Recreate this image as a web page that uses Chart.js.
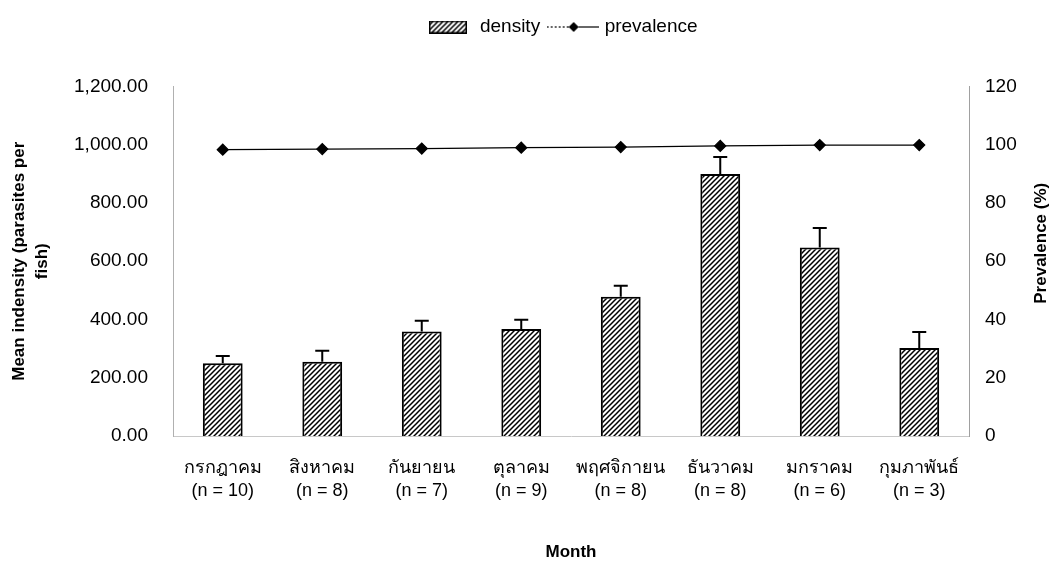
<!DOCTYPE html>
<html>
<head>
<meta charset="utf-8">
<script src="https://cdn.jsdelivr.net/npm/chart.js@4.4.1/dist/chart.umd.min.js"></script>
<style>
  html, body { margin: 0; padding: 0; background: #fff; }
  #wrap { position: relative; width: 1051px; height: 565px; }
</style>
</head>
<body>
<div id="wrap"><canvas id="chart"></canvas></div>
<script>
// values
const months = ["กรกฎาคม", "สิงหาคม", "กันยายน", "ตุลาคม", "พฤศจิกายน", "ธันวาคม", "มกราคม", "กุมภาพันธ์"];
const sampleSizes = [10, 8, 7, 9, 8, 8, 6, 3];
const density = [250, 255, 359, 367, 478, 900, 647, 302];
const densityErr = [25, 38, 37, 32, 38, 58, 67, 55];
const prevalence = [98.3, 98.5, 98.7, 99, 99.2, 99.6, 99.9, 99.9];
const leftTicks = [0, 200, 400, 600, 800, 1000, 1200];
const rightTicks = [0, 20, 40, 60, 80, 100, 120];

const FONT = '"Liberation Sans", Arial, sans-serif';
const canvas = document.getElementById("chart");
const ctx = canvas.getContext("2d");

function makeHatch() {
  const c = document.createElement("canvas");
  c.width = 5; c.height = 5;
  const g = c.getContext("2d");
  g.fillStyle = "#fff";
  g.fillRect(0, 0, 5, 5);
  g.strokeStyle = "#000";
  g.lineWidth = 1.5;
  g.beginPath();
  g.moveTo(-1, 6); g.lineTo(6, -1);
  g.moveTo(-3.5, 3.5); g.lineTo(3.5, -3.5);
  g.moveTo(1.5, 8.5); g.lineTo(8.5, 1.5);
  g.stroke();
  return ctx.createPattern(c, "repeat");
}
const hatch = makeHatch();

// legend icons
const densityIcon = document.createElement("canvas");
densityIcon.width = 38; densityIcon.height = 13;
(function () {
  const g = densityIcon.getContext("2d");
  g.fillStyle = hatch;
  g.fillRect(0, 0, 38, 13);
  g.strokeStyle = "#000";
  g.lineWidth = 1.5;
  g.strokeRect(0.75, 0.75, 36.5, 11.5);
})();

const prevIcon = document.createElement("canvas");
prevIcon.width = 52; prevIcon.height = 12;
(function () {
  const g = prevIcon.getContext("2d");
  g.strokeStyle = "#000";
  g.lineWidth = 1.2;
  g.setLineDash([2, 2]);
  g.beginPath(); g.moveTo(0, 6); g.lineTo(22, 6); g.stroke();
  g.setLineDash([]);
  g.beginPath(); g.moveTo(32, 6); g.lineTo(52, 6); g.stroke();
  g.fillStyle = "#000";
  g.beginPath();
  g.moveTo(22, 6); g.lineTo(27, 1); g.lineTo(32, 6); g.lineTo(27, 11); g.closePath();
  g.fill();
})();

const errorBars = {
  id: "errorBars",
  afterDatasetsDraw(chart) {
    const meta = chart.getDatasetMeta(0);
    const y = chart.scales.y;
    const c = chart.ctx;
    c.save();
    c.strokeStyle = "#000";
    c.lineWidth = 2;
    meta.data.forEach((bar, i) => {
      const top = y.getPixelForValue(density[i] + densityErr[i]);
      c.beginPath();
      c.moveTo(bar.x, bar.y);
      c.lineTo(bar.x, top);
      c.moveTo(bar.x - 7, top);
      c.lineTo(bar.x + 7, top);
      c.stroke();
    });
    c.restore();
  }
};

const legendSpace = {
  id: "legendSpace",
  afterInit(chart) {
    const legend = chart.legend;
    const fit = legend.fit;
    legend.fit = function () { fit.call(this); this.height += 40; };
    const draw = legend.draw;
    legend.draw = function () {
      this.ctx.save();
      this.ctx.translate(36, 0);
      draw.call(this);
      this.ctx.restore();
    };
  }
};

const rightTitle = {
  id: "rightTitle",
  afterDraw(chart) {
    const c = chart.ctx;
    const area = chart.chartArea;
    c.save();
    c.translate(chart.scales.y1.right - 10, (area.top + area.bottom) / 2 - 18);
    c.rotate(-Math.PI / 2);
    c.font = "bold 17px " + FONT;
    c.fillStyle = "#000";
    c.textAlign = "center";
    c.textBaseline = "middle";
    c.fillText("Prevalence (%)", 0, 0);
    c.restore();
  }
};

new Chart(ctx, {
  data: {
    labels: months.map((m, i) => [m, "(n = " + sampleSizes[i] + ")"]),
    datasets: [
      {
        type: "bar",
        label: "density",
        data: density,
        yAxisID: "y",
        backgroundColor: hatch,
        borderColor: "#000",
        borderWidth: 2,
        barPercentage: 0.4,
        categoryPercentage: 1,
        order: 1
      },
      {
        type: "line",
        label: "prevalence",
        data: prevalence,
        yAxisID: "y1",
        borderColor: "#000",
        borderWidth: 1.2,
        pointStyle: "rectRot",
        pointRadius: 5.5,
        pointBackgroundColor: "#000",
        pointBorderColor: "#000",
        fill: false,
        tension: 0,
        order: 0
      }
    ]
  },
  options: {
    responsive: true,
    maintainAspectRatio: false,
    animation: false,
    devicePixelRatio: 1,
    layout: { padding: { top: 7.5, left: 0, right: 0, bottom: 0 } },
    plugins: {
      tooltip: { enabled: false },
      legend: {
        position: "top",
        labels: {
          usePointStyle: true,
          pointStyleWidth: 45,
          padding: 10,
          color: "#000",
          font: { family: FONT, size: 19 },
          generateLabels: () => [
            { text: "density", pointStyle: densityIcon, datasetIndex: 0, lineWidth: 0, fontColor: "#000", hidden: false },
            { text: "prevalence", pointStyle: prevIcon, datasetIndex: 1, lineWidth: 0, fontColor: "#000", hidden: false }
          ]
        }
      }
    },
    scales: {
      x: {
        grid: { display: false, drawTicks: false, tickLength: 0 },
        border: { display: true, color: "#c8c8c8", width: 1, dash: [1, 4] },
        ticks: {
          color: "#000",
          font: { family: FONT, size: 18, lineHeight: 1.25 },
          padding: 21,
          maxRotation: 0,
          autoSkip: false
        },
        title: {
          display: true,
          text: "Month",
          color: "#000",
          font: { family: FONT, size: 17, weight: "bold" },
          padding: { top: 0, bottom: 2 }
        },
        afterFit(scale) { scale.height = 129; }
      },
      y: {
        position: "left",
        min: leftTicks[0],
        max: leftTicks[leftTicks.length - 1],
        grid: { display: false, drawTicks: false, tickLength: 0 },
        border: { display: true, color: "#b0b0b0", width: 1, dash: [1, 4] },
        afterBuildTicks(scale) { scale.ticks = leftTicks.map(v => ({ value: v })); },
        ticks: {
          color: "#000",
          font: { family: FONT, size: 19 },
          padding: 25,
          callback: v => Number(v).toLocaleString("en-US", { minimumFractionDigits: 2, maximumFractionDigits: 2 })
        },
        title: {
          display: true,
          text: ["Mean indensity (parasites per", "fish)"],
          color: "#000",
          font: { family: FONT, size: 17, weight: "bold", lineHeight: 1.4 },
          padding: { top: 7, bottom: 0 }
        },
        afterFit(scale) { scale.width = 173; }
      },
      y1: {
        position: "right",
        min: rightTicks[0],
        max: rightTicks[rightTicks.length - 1],
        grid: { display: false, drawTicks: false, tickLength: 0 },
        border: { display: true, color: "#a0a0a0", width: 1, dash: [5, 2, 1, 2] },
        afterBuildTicks(scale) { scale.ticks = rightTicks.map(v => ({ value: v })); },
        ticks: {
          color: "#000",
          font: { family: FONT, size: 19 },
          padding: 16
        },
        afterFit(scale) { scale.width = 82; }
      }
    }
  },
  plugins: [legendSpace, errorBars, rightTitle]
});
</script>
</body>
</html>
